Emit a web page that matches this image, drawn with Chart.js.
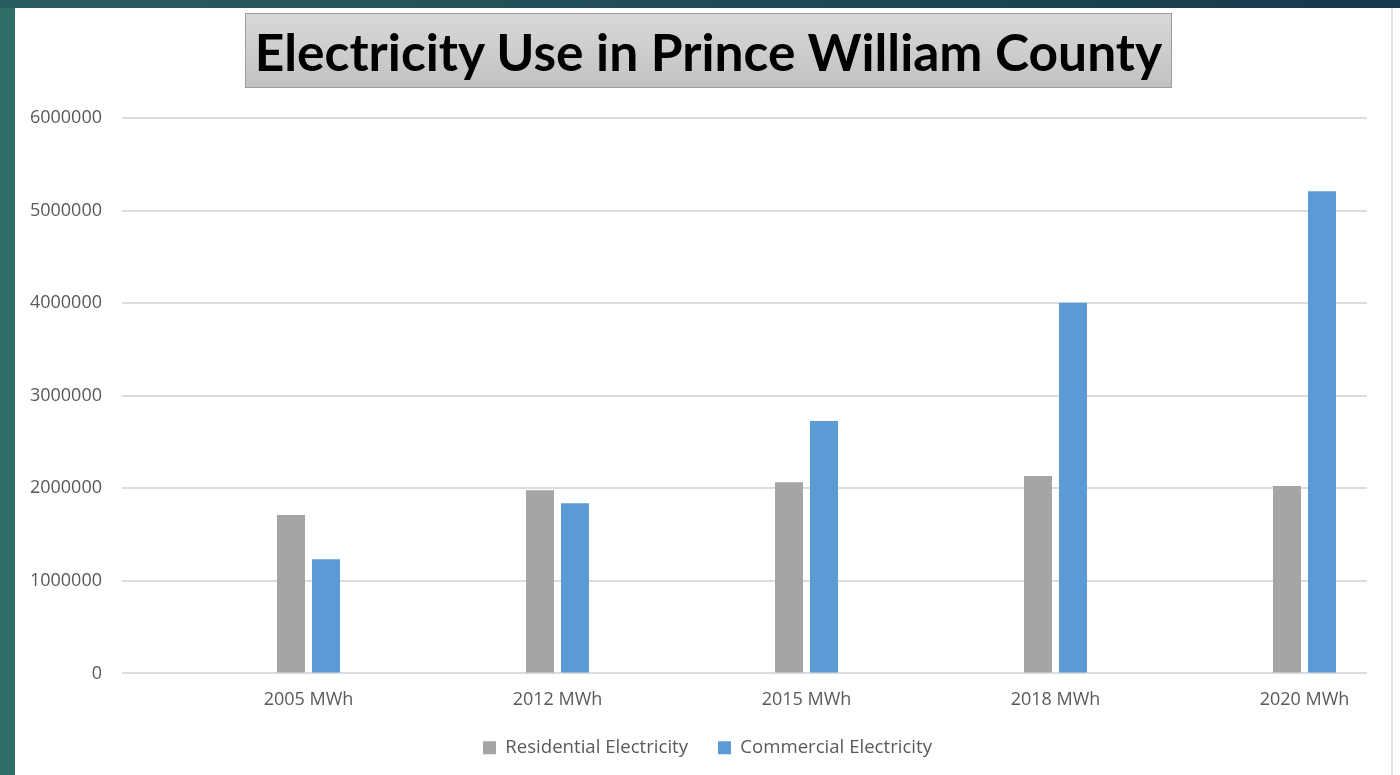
<!DOCTYPE html>
<html>
<head>
<meta charset="utf-8">
<title>Electricity Use in Prince William County</title>
<script src="https://cdn.jsdelivr.net/npm/chart.js@4/dist/chart.umd.min.js"></script>
<style>
  body { margin: 0; width: 1400px; height: 775px; overflow: hidden; position: relative; background: #2f6d67; }
  #topbar { position: absolute; left: 0; top: 0; width: 1400px; height: 8px; background: linear-gradient(90deg, #2a5d62, #143a4b); }
  #panel { position: absolute; left: 15px; top: 8px; width: 1385px; height: 767px; background: #fff; }
  #edge { position: absolute; left: 1391px; top: 8px; width: 2px; height: 767px; background: #e2e2e2; }
  #title {
    position: absolute; left: 245px; top: 13px; width: 925px; height: 73px;
    border: 1px solid #9c9c9c; background: linear-gradient(#d8d8d8, #c2c2c2);
    display: flex; align-items: center; justify-content: center;
    font-family: Lato, sans-serif; font-weight: bold; font-size: 51.5px; color: #000;
  }
  #wrap { position: absolute; left: 0; top: 0; width: 1400px; height: 775px; }
</style>
</head>
<body>
<div id="topbar"></div>
<div id="panel"></div>
<div id="edge"></div>
<div id="title">Electricity Use in Prince William County</div>
<div id="wrap"><canvas id="grafica"></canvas></div>
<script>
const categorias = ["2005 MWh", "2012 MWh", "2015 MWh", "2018 MWh", "2020 MWh"];
const residencial = [1711000, 1978000, 2065000, 2133000, 2025000];
const comercial = [1232000, 1838000, 2728000, 4005000, 5210000];
const yMin = 0;
const yMax = 6000000;
const yPaso = 1000000;

const fuente = "'Open Sans', sans-serif";
const colorTexto = "#595959";

const puntos = (valores) => valores.map((v, i) => ({ x: i, y: v }));

new Chart(document.querySelector("#grafica"), {
  type: "bar",
  data: {
    datasets: [
      {
        label: "Residential Electricity",
        data: puntos(residencial),
        backgroundColor: "#a5a5a5",
        borderWidth: 0,
        categoryPercentage: 0.281,
        barPercentage: 0.8,
      },
      {
        label: "Commercial Electricity",
        data: puntos(comercial),
        backgroundColor: "#5b9bd5",
        borderWidth: 0,
        categoryPercentage: 0.281,
        barPercentage: 0.8,
      },
    ],
  },
  options: {
    responsive: true,
    maintainAspectRatio: false,
    animation: false,
    layout: { padding: { left: 15, top: 118, right: 0, bottom: 8 } },
    scales: {
      x: {
        type: "linear",
        offset: false,
        min: -0.749,
        max: 4.251,
        grid: { display: false, drawTicks: false },
        border: { display: false },
        afterBuildTicks: (scale) => {
          scale.ticks = categorias.map((_, i) => ({ value: i }));
        },
        afterFit: (scale) => { scale.height = 35; },
        ticks: {
          autoSkip: false,
          maxRotation: 0,
          padding: 16,
          color: colorTexto,
          font: { family: fuente, size: 18 },
          callback: (v) => categorias[v],
        },
      },
      y: {
        min: yMin,
        max: yMax,
        grid: { color: "#dcdcdc", lineWidth: 2, drawTicks: false },
        border: { display: false },
        ticks: {
          stepSize: yPaso,
          padding: 20,
          color: colorTexto,
          font: { family: fuente, size: 18 },
          callback: (v) => String(v),
        },
        afterFit: (scale) => { scale.width = 107; },
      },
      // empty margin on the right, keeps the legend centred on the white panel
      margen: {
        type: "linear",
        position: "right",
        grid: { drawOnChartArea: false, drawTicks: false },
        border: { display: false },
        ticks: { display: false },
        afterFit: (scale) => { scale.width = 33; },
      },
    },
    plugins: {
      legend: {
        display: true,
        position: "bottom",
        labels: {
          boxWidth: 13,
          boxHeight: 13,
          padding: 30,
          color: colorTexto,
          font: { family: fuente, size: 18.6 },
        },
      },
      tooltip: { enabled: false },
    },
  },
});
</script>
</body>
</html>
